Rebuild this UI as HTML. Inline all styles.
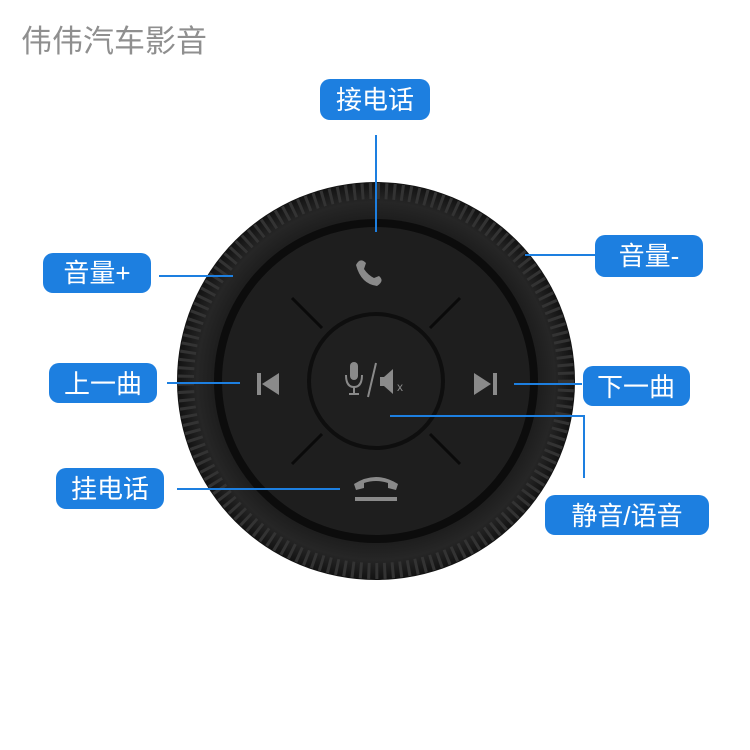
<!DOCTYPE html>
<html><head><meta charset="utf-8"><style>
body{margin:0;background:#fff;width:750px;height:750px;overflow:hidden}
svg{display:block}
.t{font-family:"Liberation Sans","Noto Sans CJK SC",sans-serif;fill:#fff;font-size:26px;text-anchor:middle}
</style></head><body>
<svg width="750" height="750" viewBox="0 0 750 750">
<defs>
<radialGradient id="kn" cx="50%" cy="50%" r="50%">
<stop offset="0.78" stop-color="#1a1a1a"/><stop offset="0.9" stop-color="#262626"/><stop offset="1" stop-color="#121212"/>
</radialGradient>
</defs>
<text x="21" y="52" font-family="Liberation Sans,'Noto Sans CJK SC',sans-serif" font-size="31" fill="#8f8f8f">伟伟汽车影音</text>
<circle cx="376" cy="381" r="199" fill="url(#kn)"/>
<circle cx="376" cy="381" r="190" fill="none" stroke="#333" stroke-width="16" stroke-dasharray="3 5"/>
<circle cx="376" cy="381" r="162" fill="#0c0c0c"/>
<circle cx="376" cy="381" r="154" fill="#1e1e1e"/>
<g stroke="#0a0a0a" stroke-width="3">
<line x1="292" y1="298" x2="322" y2="328"/><line x1="460" y1="298" x2="430" y2="328"/>
<line x1="292" y1="464" x2="322" y2="434"/><line x1="460" y1="464" x2="430" y2="434"/>
</g>
<circle cx="376" cy="381" r="69" fill="#0e0e0e"/>
<circle cx="376" cy="381" r="65" fill="#1f1f1f"/>
<g fill="#8a8a8a">
<path d="M356 265 q4-8 10-2 l-2 6 q4 6 10 9 l5-2 q6 5-2 10 q-16-2-21-21z"/>
<path d="M354 484 q22-14 44 0 l-2 6 -8-2 0-5 q-12-4-24 0 l0 5 -8 2z"/>
<rect x="355" y="497" width="42" height="4"/>
<rect x="257" y="373" width="4" height="22"/><polygon points="279,373 279,395 262,384"/>
<rect x="493" y="373" width="4" height="22"/><polygon points="474,373 474,395 491,384"/>
<rect x="350" y="362" width="8" height="18" rx="4"/>
<path d="M346 375 q0 12 8 12 q8 0 8-12" fill="none" stroke="#8a8a8a" stroke-width="2"/>
<rect x="353" y="387" width="2" height="6"/><rect x="349" y="393" width="10" height="2"/>
<line x1="368" y1="397" x2="376" y2="363" stroke="#8a8a8a" stroke-width="2"/>
<rect x="380" y="377" width="4" height="9"/><polygon points="384,377 393,369 393,394 384,386"/>
<text x="397" y="391" font-size="12" font-family="Liberation Sans,sans-serif">x</text>
</g>
<g stroke="#1d7fe0" stroke-width="2" fill="none">
<line x1="376" y1="135" x2="376" y2="232"/>
<line x1="159" y1="276" x2="233" y2="276"/>
<line x1="525" y1="255" x2="595" y2="255"/>
<line x1="167" y1="383" x2="240" y2="383"/>
<line x1="514" y1="384" x2="582" y2="384"/>
<line x1="177" y1="489" x2="340" y2="489"/>
<polyline points="390,416 584,416 584,478"/>
</g>
<g fill="#1d7fe0">
<rect x="320" y="79" width="110" height="41" rx="10"/>
<rect x="43" y="253" width="108" height="40" rx="10"/>
<rect x="595" y="235" width="108" height="42" rx="10"/>
<rect x="49" y="363" width="108" height="40" rx="10"/>
<rect x="583" y="366" width="107" height="40" rx="10"/>
<rect x="56" y="468" width="108" height="41" rx="10"/>
<rect x="545" y="495" width="164" height="40" rx="10"/>
</g>
<text class="t" x="375" y="109">接电话</text>
<text class="t" x="97" y="282">音量+</text>
<text class="t" x="649" y="265">音量-</text>
<text class="t" x="103" y="393">上一曲</text>
<text class="t" x="636" y="396">下一曲</text>
<text class="t" x="110" y="498">挂电话</text>
<text class="t" x="627" y="525">静音/语音</text>
</svg>
</body></html>
